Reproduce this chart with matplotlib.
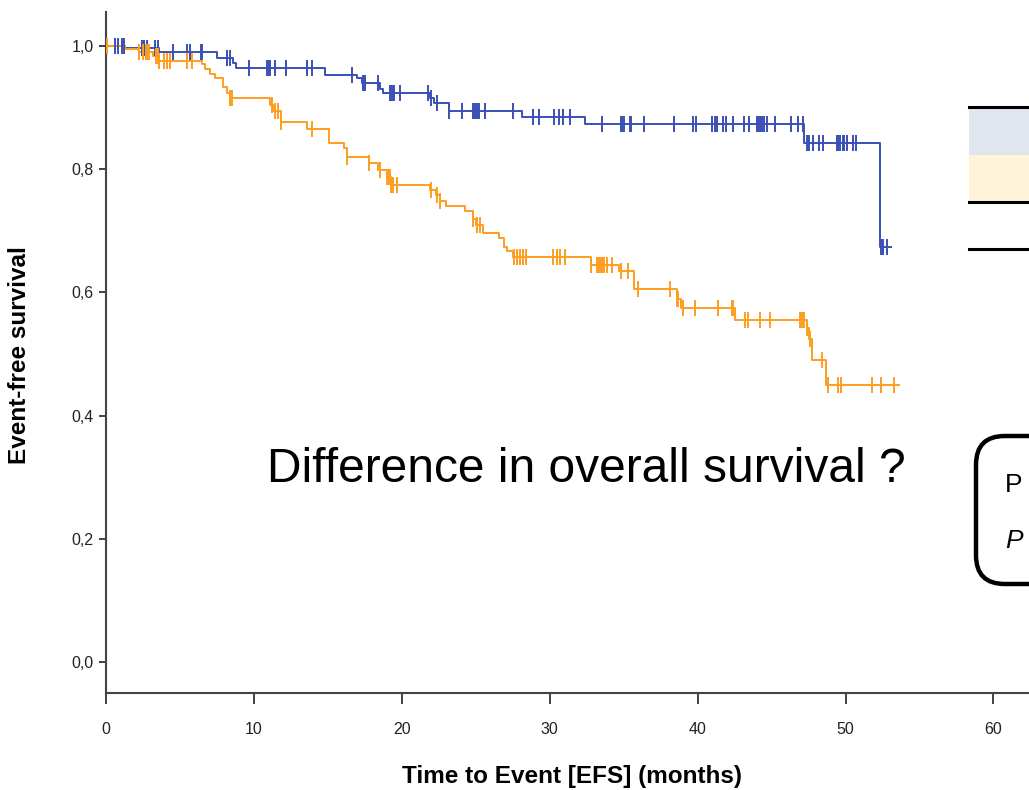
import numpy as np
import matplotlib
matplotlib.use('Agg')
import matplotlib.pyplot as plt
from matplotlib.patches import Rectangle, FancyBboxPatch
from matplotlib.lines import Line2D

# Kaplan-Meier steps (time in months, survival after the event)
blue_t = [0, 1.3, 3.6, 7.5, 8.6, 8.8, 14.8, 17.0, 17.3, 18.5, 18.7, 21.9, 22.2,
          23.2, 28.1, 32.4, 47.2, 52.3]
blue_s = [1.0, 0.996, 0.990, 0.981, 0.972, 0.964, 0.953, 0.948, 0.939, 0.930, 0.923,
          0.915, 0.907, 0.895, 0.885, 0.874, 0.842, 0.673]
blue_end = 53.1
blue_cens = [0.6, 0.8, 1.1, 1.2, 2.4, 2.6, 2.8, 3.3, 3.5, 4.5, 5.5, 5.7, 6.4, 6.5,
             8.2, 8.4, 9.7, 10.9, 11.0, 11.1, 11.4, 12.2, 13.6, 13.9, 16.6, 17.4,
             17.5, 18.4, 19.2, 19.3, 19.4, 19.5, 19.9, 21.8, 22.0, 22.4, 23.2, 24.1,
             24.8, 24.9, 25.0, 25.1, 25.2, 25.6, 27.5, 28.9, 29.3, 30.3, 30.6, 30.9,
             31.4, 33.5, 34.8, 34.9, 35.0, 35.4, 35.5, 36.4, 38.4, 39.7, 39.9, 41.0,
             41.2, 41.3, 41.7, 41.9, 42.4, 43.1, 43.5, 44.0, 44.1, 44.2, 44.3, 44.4,
             44.5, 44.7, 45.2, 46.3, 46.8, 47.1, 47.4, 47.5, 47.8, 48.2, 48.5, 49.4,
             49.5, 49.6, 49.8, 49.9, 50.1, 50.5, 50.7, 52.4, 52.5, 52.8]

orange_t = [0, 1.3, 2.2, 3.2, 3.6, 6.5, 6.7, 7.0, 7.4, 7.9, 8.2, 8.4, 11.1, 11.3,
            11.8, 13.6, 15.1, 16.1, 16.3, 17.8, 18.4, 19.0, 19.3, 21.9, 22.3, 22.6,
            23.0, 24.3, 24.8, 25.0, 25.5, 26.6, 26.9, 27.1, 27.5, 32.8, 34.7, 35.7,
            38.6, 38.9, 42.5, 47.4, 47.5, 47.7, 48.7]
orange_s = [1.0, 0.995, 0.990, 0.984, 0.976, 0.970, 0.962, 0.954, 0.948, 0.933,
            0.923, 0.915, 0.904, 0.894, 0.877, 0.865, 0.842, 0.834, 0.820, 0.810,
            0.799, 0.787, 0.775, 0.766, 0.758, 0.749, 0.740, 0.732, 0.719, 0.709,
            0.696, 0.688, 0.674, 0.668, 0.657, 0.644, 0.634, 0.605, 0.590, 0.574,
            0.555, 0.542, 0.524, 0.491, 0.449]
orange_end = 53.6
orange_cens = [0.05, 2.2, 2.5, 2.7, 2.8, 2.9, 3.4, 3.5, 3.6, 3.9, 4.1, 4.3, 5.5, 5.8,
               8.4, 8.5, 11.2, 11.4, 11.6, 11.8, 13.9, 16.3, 17.8, 18.5, 19.0, 19.1,
               19.2, 19.3, 19.4, 19.7, 22.0, 22.4, 22.6, 24.8, 25.1, 25.3, 27.6, 27.8,
               28.0, 28.2, 28.4, 30.2, 30.5, 30.7, 31.0, 32.8, 33.2, 33.3, 33.4, 33.5,
               33.7, 33.9, 34.2, 34.8, 35.3, 36.0, 38.1, 38.6, 38.7, 39.0, 39.8, 41.4,
               42.3, 42.4, 43.2, 43.4, 44.2, 44.9, 46.9, 47.0, 47.1, 47.2, 47.4, 47.6,
               48.4, 48.8, 49.5, 49.7, 51.8, 52.4, 53.3]

x_ticks = [0, 10, 20, 30, 40, 50, 60]
y_ticks = [0.0, 0.2, 0.4, 0.6, 0.8, 1.0]
y_ticklabels = ['0,0', '0,2', '0,4', '0,6', '0,8', '1,0']

BLUE = '#3a50b4'
ORANGE = '#fd9e1f'

plt.rcParams['font.family'] = ['Liberation Sans', 'DejaVu Sans']

W, H = 1029, 790
fig = plt.figure(figsize=(10.29, 7.9), dpi=100)
ax = fig.add_axes([106 / W, 97 / H, 994 / W, 681 / H])


def km(ax, t, s, end, cens, color):
    tt = list(t) + [end]
    ss = list(s) + [s[-1]]
    ax.step(tt, ss, where='post', color=color, lw=1.4, zorder=3)
    idx = np.searchsorted(np.array(t), np.array(cens), side='right') - 1
    cy = np.array(s)[idx]
    ax.plot(cens, cy, ls='none', marker='|', ms=11, mew=1.4, color=color, zorder=4)


km(ax, blue_t, blue_s, blue_end, blue_cens, BLUE)
km(ax, orange_t, orange_s, orange_end, orange_cens, ORANGE)

ax.set_xlim(0, 67.2)
ax.set_ylim(-0.05, 1.055)
ax.set_xticks(x_ticks)
ax.set_yticks(y_ticks)
ax.set_yticklabels(y_ticklabels)
ax.tick_params(axis='both', labelsize=11.5, colors='#222222', width=1.2)
ax.tick_params(axis='x', length=8, pad=13)
ax.tick_params(axis='y', length=5, pad=4)
for side in ['top', 'right']:
    ax.spines[side].set_visible(False)
for side in ['left', 'bottom']:
    ax.spines[side].set_color('#444444')
    ax.spines[side].set_linewidth(1.5)

fig.text(20 / W, 1 - 355 / H, 'Event-free survival', fontsize=17.5, fontweight='bold',
         rotation=90, ha='center', va='center')
fig.text(572 / W, 1 - 776 / H, 'Time to Event [EFS] (months)', fontsize=17.5,
         fontweight='bold', ha='center', va='center')

fig.text(586 / W, 1 - 470 / H, 'Difference in overall survival ?',
         ha='center', va='center', fontsize=34.5, color='black')

# partially visible table at the right edge
fig.add_artist(Rectangle((969 / W, 1 - 155 / H), 80 / W, 47 / H, transform=fig.transFigure,
                         facecolor='#dfe6ee', edgecolor='none'))
fig.add_artist(Rectangle((969 / W, 1 - 201 / H), 80 / W, 46 / H, transform=fig.transFigure,
                         facecolor='#fff3d9', edgecolor='none'))
for yy in [107, 202, 249]:
    fig.add_artist(Line2D([969 / W, 1.02], [1 - yy / H, 1 - yy / H], transform=fig.transFigure,
                          color='black', lw=2.2))

# partially visible p-value box
fig.add_artist(FancyBboxPatch((976 / W, 1 - 584 / H), 120 / W, 148 / H,
                              boxstyle='round,pad=0,rounding_size=0.028',
                              transform=fig.transFigure, facecolor='white',
                              edgecolor='black', lw=3.2, mutation_aspect=W / H))
fig.text(1005 / W, 1 - 485 / H, 'P', fontsize=19, ha='left', va='center')
fig.text(1005 / W, 1 - 541 / H, 'P', fontsize=19, style='italic', ha='left', va='center')

fig.savefig('out.png', dpi=100)
